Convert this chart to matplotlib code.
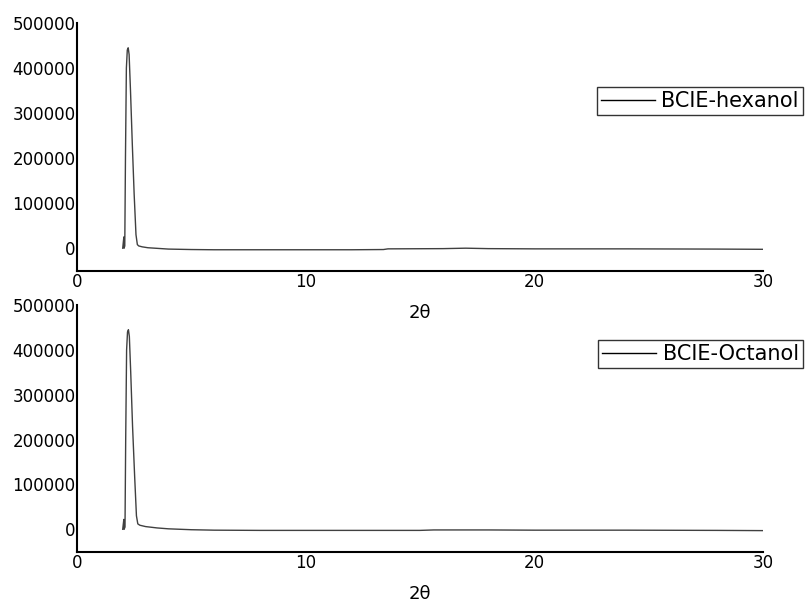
#!/usr/bin/env python3
"""XRD patterns of BCIE-hexanol and BCIE-Octanol, two stacked panels"""
import matplotlib
matplotlib.use("Agg")
import matplotlib.pyplot as plt

# 2theta positions and intensities
theta_hex = [2.00, 2.04, 2.05, 2.06, 2.09, 2.12, 2.16, 2.20, 2.24, 2.28, 2.34,
             2.42, 2.50, 2.58, 2.64, 2.70, 2.85, 3.1, 3.4, 4.0, 5.0, 6.0, 8.0,
             10.0, 12.0, 13.4, 13.6, 16.0, 17.0, 18.0, 20.0, 24.0, 28.0, 30.0]
int_hex = [0, 20000, 25000, 0, 5000, 200000, 400000, 440000, 445000, 430000, 350000,
           230000, 120000, 30000, 8000, 5000, 3000, 1000, 0, -2000, -3000, -3500, -3500,
           -3500, -3500, -3000, -1500, -1000, 0, -1000, -1500, -1500, -2000, -2500]

theta_oct = [2.00, 2.04, 2.05, 2.06, 2.10, 2.13, 2.17, 2.21, 2.25, 2.29, 2.35,
             2.43, 2.52, 2.60, 2.66, 2.75, 3.0, 3.5, 4.0, 4.5, 5.0, 6.0, 8.0,
             10.0, 12.0, 15.0, 15.6, 18.0, 20.0, 24.0, 28.0, 30.0]
int_oct = [0, 18000, 22000, 0, 5000, 200000, 400000, 440000, 445000, 430000, 350000,
           230000, 120000, 30000, 12000, 9000, 6000, 3000, 1000, 0, -1000, -2000, -2500,
           -2500, -2500, -2500, -1500, -1500, -2000, -2000, -2500, -3000]

series = [
    (theta_hex, int_hex, "BCIE-hexanol"),
    (theta_oct, int_oct, "BCIE-Octanol"),
]

x_ticks = [0, 10, 20, 30]
y_ticks = [0, 100000, 200000, 300000, 400000, 500000]

fig = plt.figure(figsize=(8.07, 6.09), dpi=100)
axes_boxes = [
    [0.0954, 0.5555, 0.850, 0.4067],
    [0.0954, 0.0941, 0.850, 0.4050],
]
legend_anchor = [(0.995, 0.857), (0.995, 0.4417)]

for (x, y, name), box, anchor in zip(series, axes_boxes, legend_anchor):
    ax = fig.add_axes(box)
    ax.patch.set_visible(False)  # so the upper x label is not hidden
    ax.plot(x, y, color="#404040", lw=1.0, label=name)
    ax.set_xlim(0, 30)
    ax.set_ylim(-50000, 500000)
    ax.set_xticks(x_ticks)
    ax.set_yticks(y_ticks)
    ax.tick_params(length=0, labelsize=12)
    ax.tick_params(axis="x", pad=1.5)
    ax.tick_params(axis="y", pad=1)
    for side in ("top", "right"):
        ax.spines[side].set_visible(False)
    for side in ("left", "bottom"):
        ax.spines[side].set_linewidth(1.5)
    ax.set_xlabel("2\u03b8", fontsize=13, labelpad=9.5)
    leg = ax.legend(loc="upper right", bbox_to_anchor=anchor,
                    bbox_transform=fig.transFigure, fontsize=15,
                    frameon=True, fancybox=False, borderpad=0.2,
                    handlelength=2.6, handletextpad=0.3, borderaxespad=0)
    leg.get_frame().set_edgecolor("black")
    leg.get_frame().set_linewidth(1.0)
    leg.legend_handles[0].set_color("black")

fig.savefig("out.png", dpi=100)
